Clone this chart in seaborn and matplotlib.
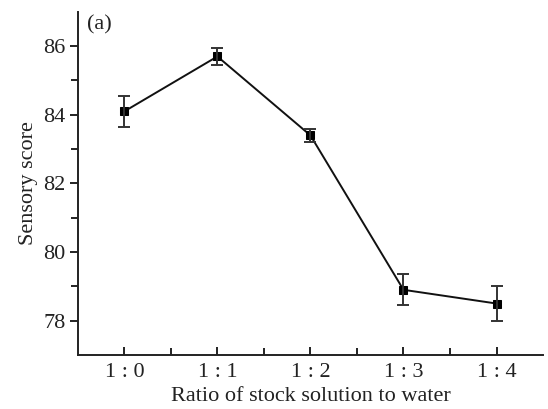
import matplotlib
matplotlib.use("Agg")
import matplotlib.pyplot as plt
from matplotlib.ticker import MultipleLocator, FixedLocator
import seaborn as sns
import numpy as np

# data
ratios = ["1 : 0", "1 : 1", "1 : 2", "1 : 3", "1 : 4"]
scores = [84.1, 85.7, 83.4, 78.9, 78.5]
errors = [0.45, 0.25, 0.2, 0.45, 0.52]

sns.set_theme(style="ticks")
plt.rcParams["font.family"] = ["Liberation Serif", "DejaVu Serif"]

fig = plt.figure(figsize=(5.48, 4.09), dpi=100)
ax = fig.add_axes([0.142, 0.132, 0.849, 0.839])

xpos = np.arange(len(ratios))
sns.lineplot(x=xpos, y=scores, ax=ax, color="#111111", lw=1.4,
             marker="s", markersize=6, markeredgecolor="black",
             markerfacecolor="black")
ax.errorbar(xpos, scores, yerr=errors, fmt="none", ecolor="#333333",
            elinewidth=1.4, capsize=4, capthick=1.4)

ax.set_xlim(-0.5, 4.5)
ax.set_ylim(77, 87)
ax.set_xticks(xpos)
ax.set_xticklabels(ratios)
ax.xaxis.set_minor_locator(FixedLocator(xpos[:-1] + 0.5))
ax.yaxis.set_major_locator(MultipleLocator(2))
ax.yaxis.set_minor_locator(FixedLocator([79, 81, 83, 85]))

for s in ["top", "right"]:
    ax.spines[s].set_visible(False)
for s in ["left", "bottom"]:
    ax.spines[s].set_linewidth(1.4)
    ax.spines[s].set_color("#222222")

ax.tick_params(which="major", direction="out", length=6, width=1.4,
               labelsize=16, colors="#222222")
ax.tick_params(which="minor", direction="out", length=5, width=1.4,
               colors="#222222")
ax.tick_params(axis="x", which="both", direction="in")
ax.tick_params(axis="x", which="major", pad=6)
ax.tick_params(axis="y", which="major", pad=3)

ax.set_xlabel("Ratio of stock solution to water", fontsize=16,
              color="#222222", labelpad=3)
ax.set_ylabel("Sensory score", fontsize=16, color="#222222", labelpad=4)
ax.text(0.02, 0.99, "(a)", transform=ax.transAxes, fontsize=16,
        va="top", ha="left", color="#222222")

fig.savefig("out.png", dpi=100)
